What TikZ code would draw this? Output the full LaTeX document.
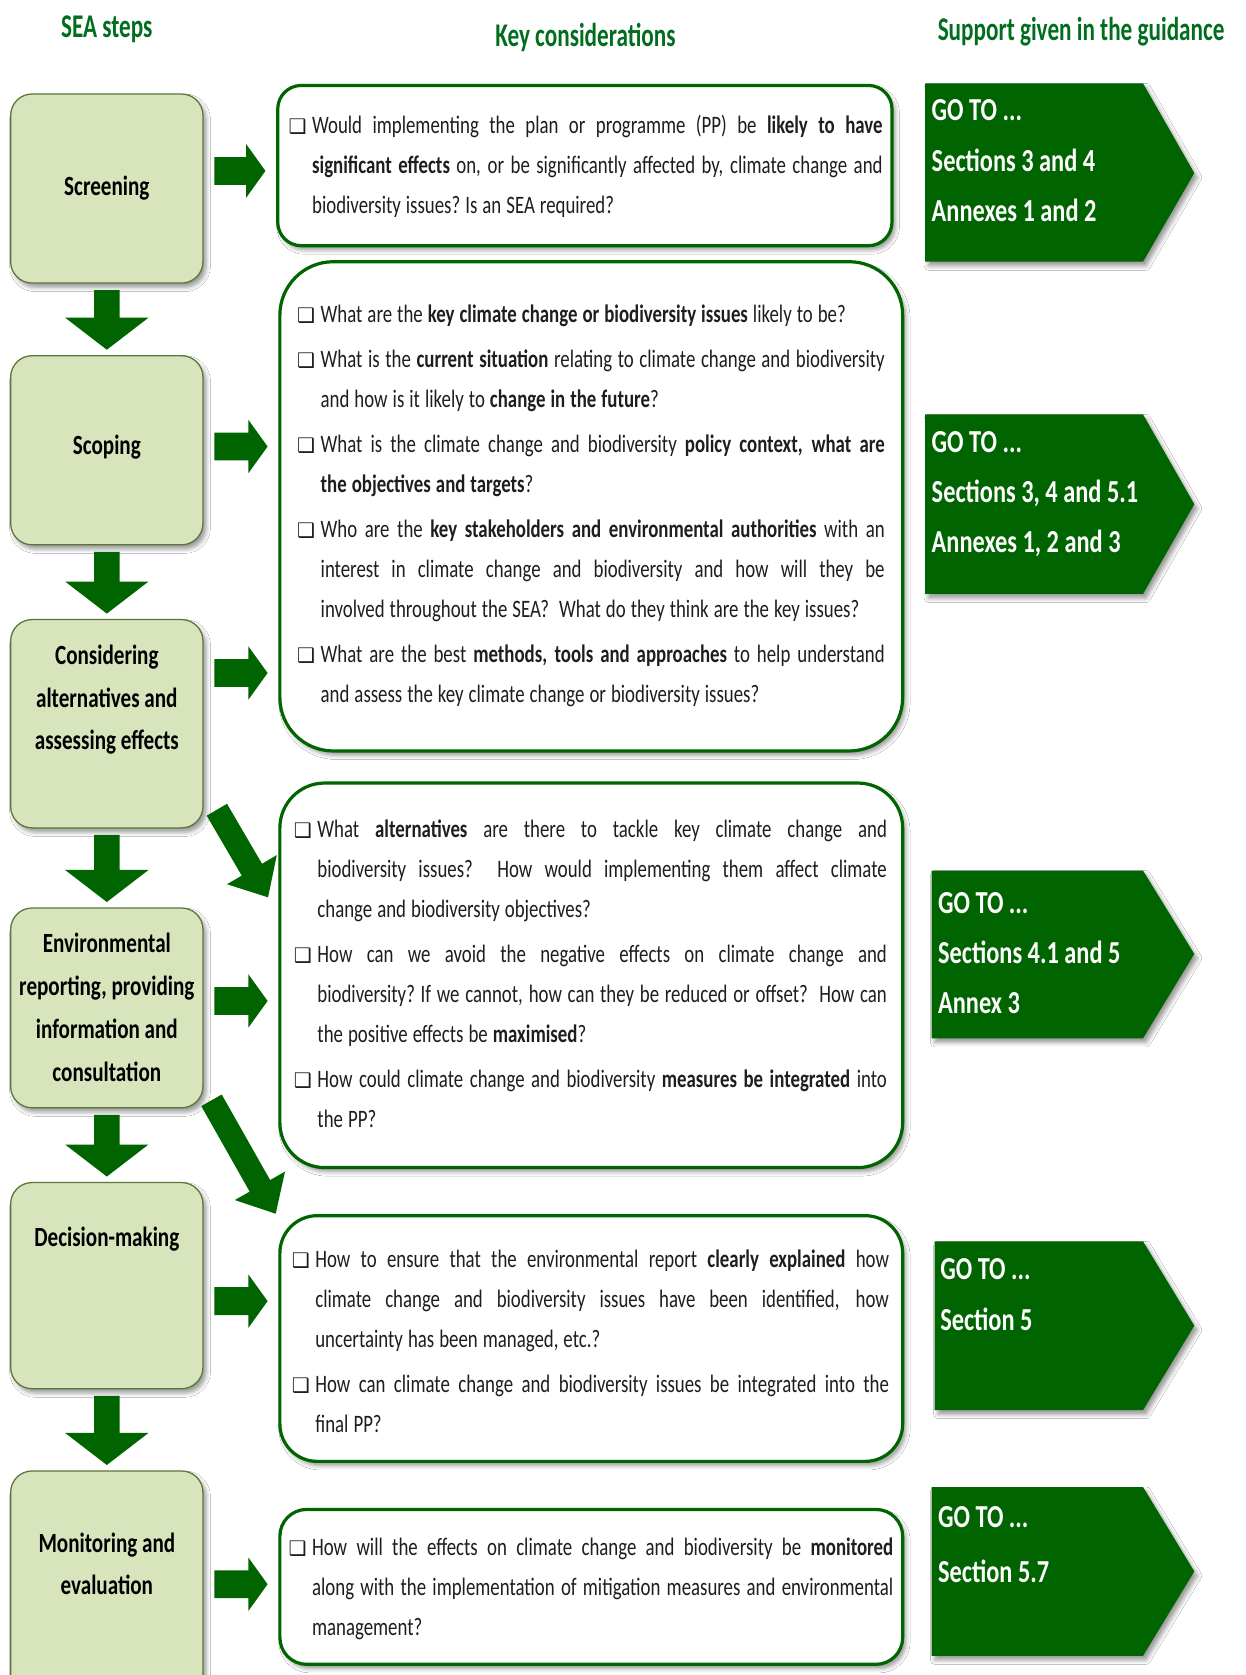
\documentclass[tikz,border=0pt]{standalone}
\usepackage{fontspec}
\setmainfont{Carlito}[FakeStretch=0.76]
\newfontfamily\hdrf{Carlito}[FakeStretch=0.7]
\newfontfamily\bodyf{Carlito}[FakeStretch=0.75]
\newfontfamily\symf{DejaVu Sans}[Scale=0.8]
\usetikzlibrary{calc,shadows.blur}
\definecolor{dkgreen}{RGB}{0,100,0}
\definecolor{hdgreen}{RGB}{0,110,30}
\definecolor{lbfill}{RGB}{216,228,188}
\definecolor{lbdraw}{RGB}{90,118,58}
\definecolor{txt}{RGB}{30,30,30}
\newcommand\cbx{\makebox[22pt][l]{\symf ❑}}
\newcommand\keysetup{\spaceskip=0.2em plus 1.5em minus 0.07em\xspaceskip=\spaceskip\tolerance=10000\hyphenpenalty=10000\parindent=0pt}
\newcommand\qi[1]{\hangindent=22pt\hangafter=1\rule{0pt}{20pt}\cbx #1\par}
\newcommand\qn[1]{\vskip4.5pt\noindent\qi{#1}}
\newcommand\darrow[2]{\path[fill=dkgreen] let \p1=(#1.south), \p2=(#2.north) in
  (\x1-12pt,\y1-6pt) -- (\x1+12pt,\y1-6pt) -- (\x1+12pt,\y2+35pt) -- (\x1+39pt,\y2+35pt)
  -- (\x1,\y2+5pt) -- (\x1-39pt,\y2+35pt) -- (\x1-12pt,\y2+35pt) -- cycle;}
\newcommand\rarrow[3]{\path[fill=dkgreen] let \p1=(#1.east), \p2=(#2.west) in
  (\x1+10pt,-#3pt+13pt) -- (\x2-28pt,-#3pt+13pt) -- (\x2-28pt,-#3pt+25pt) -- (\x2-10pt,-#3pt)
  -- (\x2-28pt,-#3pt-25pt) -- (\x2-28pt,-#3pt-13pt) -- (\x1+10pt,-#3pt-13pt) -- cycle;}
\newcommand\diagarrow[3]{\begin{scope}[shift={#1},rotate=#2]
  \fill[dkgreen] (0,-11) -- (#3-30,-11) -- (#3-30,-27) -- (#3,0) -- (#3-30,27) -- (#3-30,11) -- (0,11) -- cycle;
  \end{scope}}
\begin{document}
\begin{tikzpicture}[x=1pt,y=-1pt,
  shd/.style={blur shadow={shadow xshift=3pt,shadow yshift=-4pt,shadow blur radius=4pt,shadow opacity=40}},
  hdr/.style={text=hdgreen,font=\hdrf\fontsize{31}{36}\selectfont\bfseries,inner sep=0pt},
  lbox/.style={draw=lbdraw,line width=1.2pt,fill=lbfill,rounded corners=20pt,minimum width=180pt,shd},
  ltext/.style={align=center,inner sep=0pt,font=\fontsize{26}{40}\selectfont\bfseries},
  kbox/.style={draw=dkgreen,line width=3pt,fill=white,minimum width=583pt,shd},
  ktext/.style={anchor=north west,inner sep=0pt,align=justify,text=txt,font=\bodyf\fontsize{23.5}{37.5}\selectfont},
  gbox/.style={fill=dkgreen,shd},
  gtext/.style={anchor=north west,inner sep=0pt,align=left,text=white,font=\fontsize{30}{47}\selectfont\bfseries}]
\useasboundingbox (0,0) rectangle (1166,1568);
\fill[white] (0,0) rectangle (1166,1568);
% headers
\node[hdr] (h1) at (100,27) {SEA steps};
\node[hdr] (h2) at (548,35) {Key considerations};
\node[hdr] (h3) at (1012,30) {Support given in the guidance};
% left steps
\node[lbox,minimum height=177pt] (s1) at (100,176.5) {};
\node[lbox,minimum height=177pt] (s2) at (100,421.5) {};
\node[lbox,minimum height=195pt] (s3) at (100,677.5) {};
\node[lbox,minimum height=187pt] (s4) at (100,943.5) {};
\node[lbox,minimum height=193pt] (s5) at (100,1203.5) {};
\node[lbox,minimum height=243pt] (s6) at (100,1498.5) {};
\node[ltext] (t1) at (100,176) {Screening};
\node[ltext] (t2) at (100,419) {Scoping};
\node[ltext] (t3) at (100,655) {Considering\\alternatives and\\assessing effects};
\node[ltext] (t4) at (100,943) {Environmental\\reporting, providing\\information and\\consultation};
\node[ltext] (t5) at (100,1160) {Decision-making};
\node[ltext] (t6) at (100,1464) {Monitoring and\\evaluation};
% key boxes
\node[kbox,minimum width=575pt,minimum height=150pt,rounded corners=22pt] (k1) at (547.5,155) {};
\node[kbox,minimum height=458pt,rounded corners=50pt] (k2) at (553.5,474) {};
\node[kbox,minimum height=360pt,rounded corners=42pt] (k3) at (553.5,913) {};
\node[kbox,minimum height=230pt,rounded corners=35pt] (k4) at (553.5,1253) {};
\node[kbox,minimum height=145pt,rounded corners=25pt] (k5) at (553.5,1485.5) {};
\node[ktext,text width=556pt] (q1) at (270,105) {\keysetup
\qi{Would implementing the plan or programme (PP) be \textbf{likely to have}\linebreak \textbf{significant effects} on, or be significantly affected by, climate change and\linebreak biodiversity issues? Is an SEA required?}};
\node[ktext,text width=550pt] (q2) at (278,282) {\keysetup
\qi{What are the \textbf{key climate change or biodiversity issues} likely to be?}
\qn{What is the \textbf{current situation} relating to climate change and biodiversity\linebreak and how is it likely to \textbf{change in the future}?}
\qn{What is the climate change and biodiversity \textbf{policy context, what are}\linebreak \textbf{the objectives and targets}?}
\qn{Who are the \textbf{key stakeholders and environmental authorities} with an\linebreak interest in climate change and biodiversity and how will they be\linebreak involved throughout the SEA?\ \ What do they think are the key issues?}
\qn{What are the best \textbf{methods, tools and approaches} to help understand\linebreak and assess the key climate change or biodiversity issues?}};
\node[ktext,text width=555pt] (q3) at (275,764) {\keysetup
\qi{What \textbf{alternatives} are there to tackle key climate change and\linebreak biodiversity issues?\ \ How would implementing them affect climate\linebreak change and biodiversity objectives?}
\qn{How can we avoid the negative effects on climate change and\linebreak biodiversity? If we cannot, how can they be reduced or offset?\ \ How can\linebreak the positive effects be \textbf{maximised}?}
\qn{How could climate change and biodiversity \textbf{measures be integrated} into\linebreak the PP?}};
\node[ktext,text width=559pt] (q4) at (273,1166) {\keysetup
\qi{How to ensure that the environmental report \textbf{clearly explained} how\linebreak climate change and biodiversity issues have been identified, how\linebreak uncertainty has been managed, etc.?}
\qn{How can climate change and biodiversity issues be integrated into the\linebreak final PP?}};
\node[ktext,text width=566pt] (q5) at (270,1436) {\keysetup
\qi{How will the effects on climate change and biodiversity be \textbf{monitored}\linebreak along with the implementation of mitigation measures and environmental\linebreak management?}};
% guidance arrows
\fill[gbox] (866,78) -- (1070,78) -- (1118,162) -- (1070,245) -- (866,245) -- cycle;
\fill[gbox] (866,388) -- (1070,388) -- (1118,472) -- (1070,556) -- (866,556) -- cycle;
\fill[gbox] (872,815) -- (1070,815) -- (1118,893) -- (1070,972) -- (872,972) -- cycle;
\fill[gbox] (875,1162) -- (1070,1162) -- (1118,1241) -- (1070,1320) -- (875,1320) -- cycle;
\fill[gbox] (872,1392) -- (1070,1392) -- (1118,1471) -- (1070,1550) -- (872,1550) -- cycle;
\node[gtext] (g1) at (872,91) {\rule{0pt}{22pt}GO TO ...\\Sections 3 and 4\\Annexes 1 and 2};
\node[gtext] (g2) at (872,401) {\rule{0pt}{22pt}GO TO ...\\Sections 3, 4 and 5.1\\Annexes 1, 2 and 3};
\node[gtext] (g3) at (878,833) {\rule{0pt}{22pt}GO TO ...\\Sections 4.1 and 5\\Annex 3};
\node[gtext] (g4) at (880,1176) {\rule{0pt}{22pt}GO TO ...\\Section 5};
\node[gtext] (g5) at (878,1408) {\rule{0pt}{22pt}GO TO ...\\[4pt]Section 5.7};
% down arrows
\darrow{s1}{s2}
\darrow{s2}{s3}
\darrow{s3}{s4}
\darrow{s4}{s5}
\darrow{s5}{s6}
% right arrows
\rarrow{s1}{k1}{160}
\rarrow{s2}{k2}{418}
\rarrow{s3}{k2}{630}
\rarrow{s4}{k3}{937}
\rarrow{s5}{k4}{1218}
\rarrow{s6}{k5}{1483}
% diagonal arrows
\diagarrow{(203,758)}{-59.7}{95}
\diagarrow{(198,1030)}{-60.5}{122}
\end{tikzpicture}
\end{document}
